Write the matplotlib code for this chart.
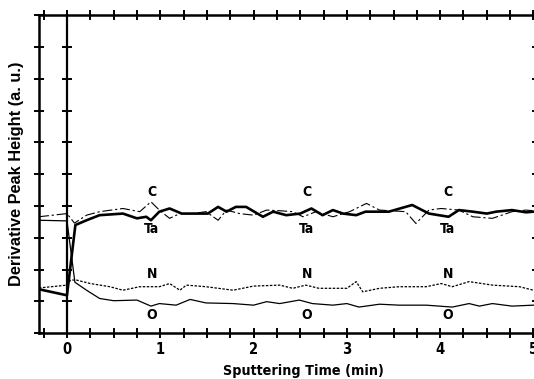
import numpy as np
import matplotlib
matplotlib.use("Agg")
import matplotlib.pyplot as plt
from matplotlib.ticker import MultipleLocator

# Auger depth profile, derivative peak heights (arbitrary units)
c_x = [-0.3, 0, 0.08, 0.21, 0.35, 0.6, 0.78, 0.9, 0.99, 1.1, 1.21, 1.35, 1.49, 1.62,
       1.71, 1.85, 2.0, 2.14, 2.28, 2.42, 2.53, 2.67, 2.85, 3.03, 3.21, 3.35, 3.63,
       3.74, 3.88, 4.01, 4.2, 4.35, 4.56, 4.77, 4.92, 5.0]
c_y = [3.66, 3.76, 3.46, 3.71, 3.82, 3.92, 3.82, 4.13, 3.87, 3.61, 3.76, 3.76, 3.82, 3.55,
       3.87, 3.76, 3.71, 3.87, 3.85, 3.82, 3.66, 3.82, 3.66, 3.82, 4.08, 3.87, 3.82,
       3.45, 3.87, 3.92, 3.87, 3.66, 3.61, 3.82, 3.87, 3.85]

ta_x = [-0.3, 0, 0.09, 0.21, 0.35, 0.6, 0.75, 0.85, 0.9, 0.99, 1.1, 1.23, 1.39, 1.51,
        1.62, 1.71, 1.81, 1.92, 2.1, 2.21, 2.35, 2.5, 2.62, 2.74, 2.85, 2.96, 3.1,
        3.2, 3.45, 3.7, 3.88, 4.09, 4.2, 4.35, 4.5, 4.6, 4.77, 4.92, 5.0]
ta_y = [1.38, 1.19, 3.40, 3.55, 3.71, 3.76, 3.61, 3.66, 3.55, 3.82, 3.92, 3.76, 3.76, 3.76,
        3.97, 3.82, 3.97, 3.97, 3.66, 3.82, 3.71, 3.76, 3.92, 3.71, 3.87, 3.76, 3.71,
        3.82, 3.82, 4.03, 3.76, 3.66, 3.87, 3.82, 3.76, 3.82, 3.87, 3.80, 3.82]

n_x = [-0.3, 0, 0.04, 0.1, 0.25, 0.46, 0.6, 0.78, 0.99, 1.1, 1.21, 1.28, 1.49, 1.78,
       2.0, 2.28, 2.42, 2.56, 2.7, 2.85, 3.0, 3.1, 3.17, 3.35, 3.56, 3.85, 4.01, 4.13,
       4.31, 4.56, 4.85, 5.0]
n_y = [1.42, 1.51, 1.67, 1.67, 1.56, 1.46, 1.35, 1.46, 1.46, 1.56, 1.35, 1.51, 1.46, 1.35,
       1.48, 1.51, 1.41, 1.51, 1.41, 1.41, 1.41, 1.62, 1.30, 1.41, 1.46, 1.46, 1.56, 1.46,
       1.62, 1.51, 1.46, 1.35]

o_x = [-0.3, 0, 0.085, 0.21, 0.35, 0.5, 0.75, 0.9, 0.99, 1.17, 1.32, 1.49, 1.78, 2.0,
       2.14, 2.28, 2.49, 2.63, 2.85, 3.0, 3.13, 3.35, 3.56, 3.85, 4.13, 4.31, 4.42,
       4.56, 4.77, 5.0]
o_y = [3.55, 3.53, 1.60, 1.35, 1.09, 1.02, 1.04, 0.85, 0.93, 0.88, 1.06, 0.95, 0.93, 0.88,
       0.99, 0.93, 1.04, 0.93, 0.88, 0.93, 0.82, 0.91, 0.88, 0.88, 0.82, 0.93, 0.85,
       0.93, 0.85, 0.88]

# element labels
lab_text = ["C", "Ta", "N", "O"]
lab_y = [4.45, 3.27, 1.85, 0.58]
lab_x = [0.91, 2.57, 4.08]

narrow = dict(family=["DejaVu Sans"], stretch="condensed", fontweight="bold")

fig = plt.figure(figsize=(5.34, 3.79), dpi=100)
ax = fig.add_axes([0.073, 0.121, 0.933, 0.839])

ax.plot(c_x, c_y, color="black", lw=0.8, ls=(0, (9, 2.5, 2, 2.5)))
ax.plot(ta_x, ta_y, color="black", lw=1.9)
ax.plot(n_x, n_y, color="black", lw=0.9, ls=(0, (2, 1.2)))
ax.plot(o_x, o_y, color="black", lw=0.9)

for xx in lab_x:
    for t, yy in zip(lab_text, lab_y):
        ax.text(xx, yy, t, ha="center", va="center", fontsize=10, **narrow)

ax.set_xlim(-0.3, 5.04)
ax.set_ylim(0, 10)

# vertical line at t = 0 with its own ticks
ax.axvline(0, color="black", lw=1.6)
yt = np.arange(1, 10)
ax.plot(np.zeros(len(yt)), yt, ls="none", marker="_", ms=7, mew=1.4, color="black")

for s in ax.spines.values():
    s.set_linewidth(1.8)

ax.xaxis.set_major_locator(MultipleLocator(1))
ax.xaxis.set_minor_locator(MultipleLocator(0.25))
ax.yaxis.set_major_locator(MultipleLocator(1))
ax.tick_params(which="both", direction="inout", length=7, width=1.4,
               top=True, right=True, labelleft=False)
ax.set_xticks([0, 1, 2, 3, 4, 5])
ax.set_xticklabels(["0", "1", "2", "3", "4", "5"], fontsize=10.5, **narrow)
ax.tick_params(axis="x", pad=3)

ax.set_xlabel("Sputtering Time (min)", fontsize=10.3, **narrow)
ax.xaxis.set_label_coords(0.531, -0.097)
ax.set_ylabel("Derivative Peak Height (a. u.)", fontsize=11.8, fontweight="bold",
              family=["Liberation Sans", "DejaVu Sans"])
ax.yaxis.set_label_coords(-0.03, 0.5)

fig.savefig("out.png", dpi=100)
